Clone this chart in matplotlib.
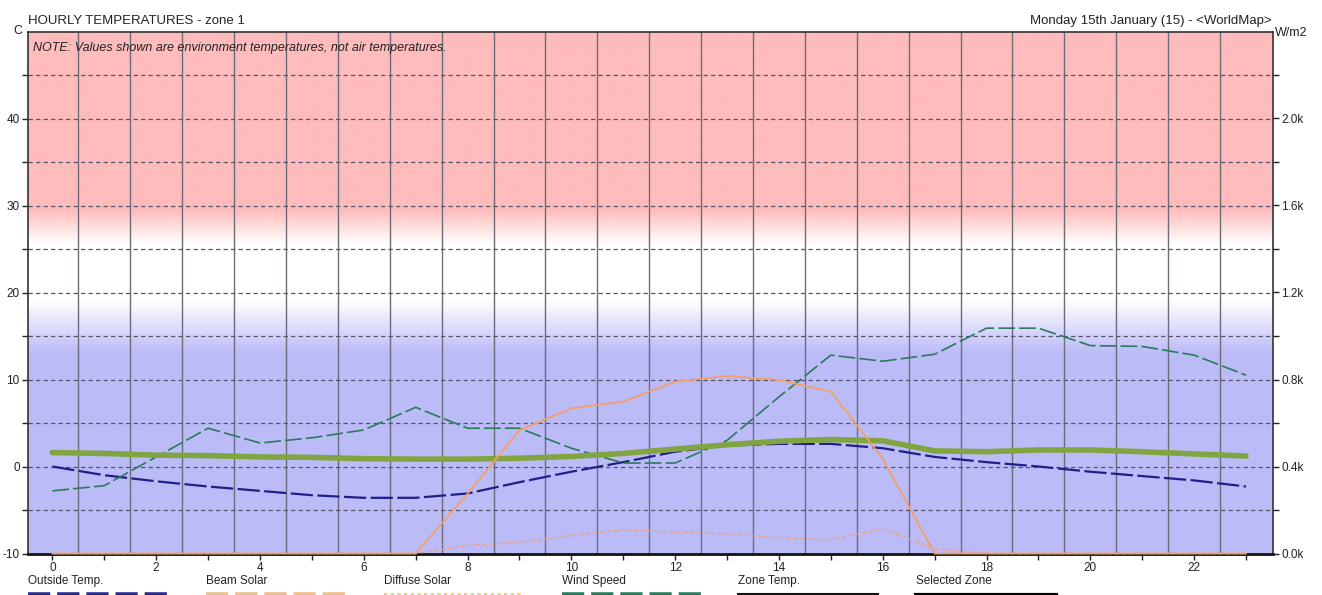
import numpy as np
import matplotlib
matplotlib.use('Agg')
import matplotlib.pyplot as plt
from matplotlib.lines import Line2D
from matplotlib.ticker import FixedLocator, FuncFormatter, MultipleLocator

plt.rcParams['font.family'] = ['Liberation Sans', 'DejaVu Sans']

# hourly values
hours = list(range(24))
outside_temp = [0.0, -1.0, -1.7, -2.3, -2.8, -3.3, -3.6, -3.6, -3.1, -1.8, -0.6, 0.5,
                1.7, 2.4, 2.6, 2.6, 2.1, 1.1, 0.5, 0.0, -0.6, -1.1, -1.6, -2.3]
zone_temp = [1.6, 1.5, 1.3, 1.25, 1.1, 1.05, 0.9, 0.85, 0.85, 0.95, 1.15, 1.5,
             2.0, 2.5, 2.9, 3.1, 2.95, 1.8, 1.7, 1.9, 1.9, 1.7, 1.45, 1.2]
wind_speed = [-2.8, -2.2, 1.1, 4.4, 2.7, 3.3, 4.2, 6.8, 4.4, 4.4, 2.1, 0.4,
              0.4, 3.0, 8.0, 12.8, 12.1, 12.9, 15.9, 15.9, 13.9, 13.8, 12.8, 10.5]
beam_solar = [0, 0, 0, 0, 0, 0, 0, 0, 275, 567, 667, 698,
              790, 816, 798, 744, 436, 0, 0, 0, 0, 0, 0, 0]
diffuse_solar = [0, 0, 0, 0, 0, 0, 0, 0, 37, 52, 83, 109,
                 98, 91, 72, 63, 114, 22, 0, 0, 0, 0, 0, 0]

legend_names = ['Outside Temp.', 'Beam Solar', 'Diffuse Solar', 'Wind Speed',
                'Zone Temp.', 'Selected Zone']

W, H = 1322, 595
fig = plt.figure(figsize=(W / 100, H / 100), dpi=100)
fig.patch.set_facecolor('white')
ax = fig.add_axes([28 / W, 1 - 553.5 / H, (1273 - 28) / W, (553.5 - 31.5) / H])

ax.set_xlim(-0.47, 23.52)
ax.set_ylim(-10, 50)

# comfort band background (blue - white - pink)
yy = np.linspace(-10, 50, 600)
blue = (187, 187, 248)
pink = (255, 188, 188)
stops = [-10, 13, 19, 25.5, 29.5, 50]
cols = [blue, blue, (255, 255, 255), (255, 255, 255), pink, pink]
img = np.zeros((len(yy), 1, 3))
for c in range(3):
    img[:, 0, c] = np.interp(yy, stops, [col[c] for col in cols]) / 255
ax.imshow(img, origin='lower', aspect='auto', extent=[-0.47, 23.52, -10, 50],
          interpolation='bilinear', zorder=0)

# grid
ax.set_axisbelow(True)
ax.yaxis.set_major_locator(FixedLocator(np.arange(-10, 46, 5)))
ax.yaxis.set_major_formatter(FuncFormatter(lambda v, p: f'{v:.0f}' if v % 10 == 0 else ''))
ax.xaxis.set_major_locator(MultipleLocator(1))
ax.xaxis.set_major_formatter(FuncFormatter(lambda v, p: f'{v:.0f}' if v % 2 == 0 else ''))
ax.xaxis.set_minor_locator(FixedLocator(np.arange(0.5, 23, 1)))
ax.grid(axis='y', which='major', color='#55556a', linestyle=(0, (3.5, 2.5)), lw=0.9)
ax.grid(axis='x', which='minor', color='#6c6c78', linestyle='-', lw=1.0)
ax.tick_params(axis='x', which='minor', length=0)
ax.tick_params(axis='both', which='major', labelsize=8.5, colors='#222222', length=4,
               width=1.0, direction='out', pad=2)
for s in ax.spines.values():
    s.set_color('#333333')
    s.set_linewidth(1.2)
ax.spines['bottom'].set_color('#111111')
ax.spines['bottom'].set_linewidth(2)

ax.plot(hours, outside_temp, color='#1f1f8a', lw=1.6, dashes=(10, 2), zorder=3)
ax.plot(hours, wind_speed, color='#2b7a5c', lw=1.2, dashes=(10, 2.5), zorder=3)
ax.plot(hours, zone_temp, color='#80a440', lw=4.0, solid_capstyle='round', zorder=4)

# solar on the right axis
ax2 = ax.twinx()
ax2.set_ylim(0, 2400)
ax2.yaxis.set_major_locator(FixedLocator(np.arange(0, 2201, 200)))
ax2.yaxis.set_major_formatter(FuncFormatter(lambda v, p: f'{v / 1000:.1f}k' if v % 400 == 0 else ''))
ax2.tick_params(axis='y', labelsize=8.5, colors='#222222', length=4, width=1.0, pad=2)
for s in ax2.spines.values():
    s.set_visible(False)
ax2.plot(hours, beam_solar, color='#f3a066', lw=1.3, clip_on=False, zorder=3)
ax2.plot(hours, diffuse_solar, color='#f0a080', lw=1.0, dashes=(3, 2), clip_on=False, zorder=3)

# titles and axis units
fig.text(28 / W, 1 - 21 / H, 'HOURLY TEMPERATURES - zone 1', ha='left', va='center',
         fontsize=9.5, color='#222222')
fig.text(1272 / W, 1 - 21 / H, 'Monday 15th January (15) - <WorldMap>', ha='right',
         va='center', fontsize=9.5, color='#222222')
fig.text(18 / W, 1 - 31 / H, 'C', ha='center', va='center', fontsize=9, color='#222222')
fig.text(1275 / W, 1 - 33 / H, 'W/m2', ha='left', va='center', fontsize=9, color='#222222')
fig.text(33 / W, 1 - 48 / H, 'NOTE: Values shown are environment temperatures, not air temperatures.',
         ha='left', va='center', fontsize=9, style='italic', color='#222222')

# legend strip along the bottom
leg_x = [28, 206, 384, 562, 738, 916]
for x0, name in zip(leg_x, legend_names):
    fig.text(x0 / W, 1 - 581 / H, name, ha='left', va='center', fontsize=8.5, color='#222222')

def sample(x0, y=594.5, **kw):
    fig.add_artist(Line2D([x0 / W, (x0 + 140) / W], [1 - y / H, 1 - y / H],
                          transform=fig.transFigure, **kw))

sample(leg_x[0], color='#2a2a8a', lw=4, dashes=(4.0, 1.25))
sample(leg_x[1], color='#e8c090', lw=4, dashes=(4.0, 1.25))
sample(leg_x[2], y=593.5, color='#f0c080', lw=1.2, dashes=(2, 2))
sample(leg_x[3], color='#2b7a5c', lw=4, dashes=(4.0, 1.25))
sample(leg_x[4], y=594, color='#111111', lw=1.5)
sample(leg_x[5], color='#000000', lw=3)

fig.savefig('out.png', dpi=100)
